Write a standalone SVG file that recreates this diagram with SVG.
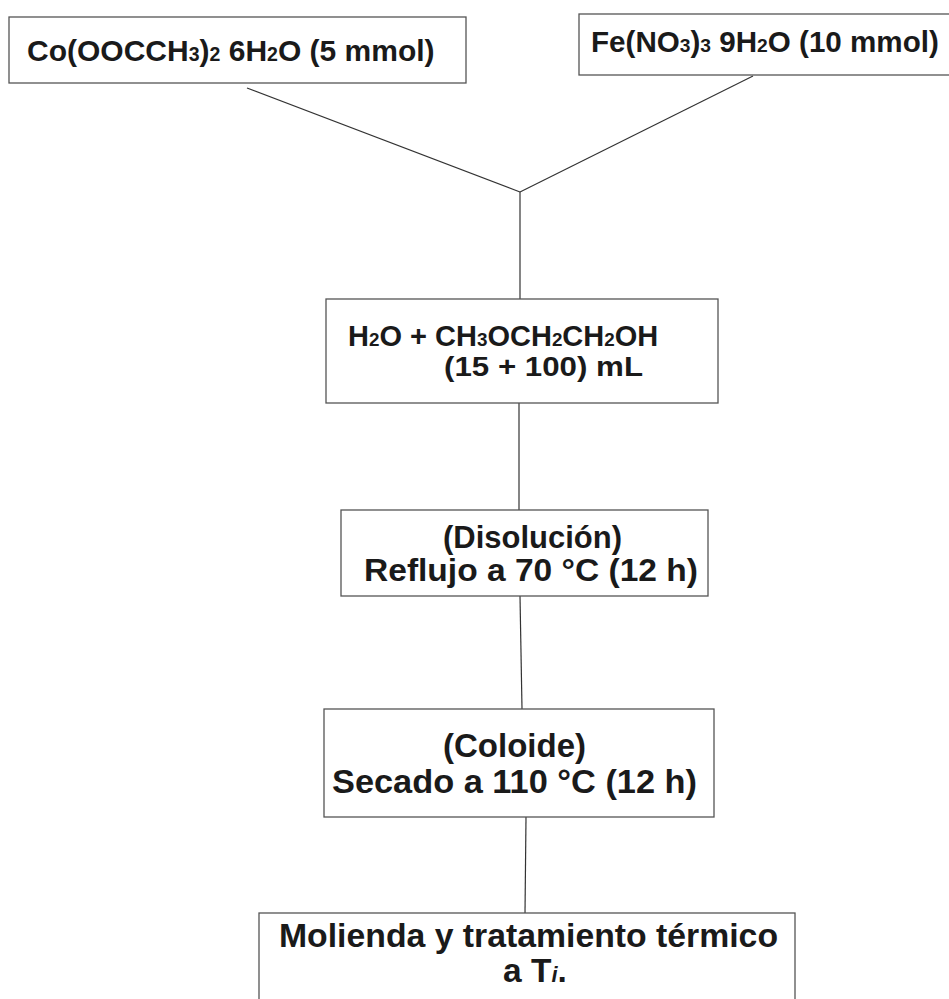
<svg xmlns="http://www.w3.org/2000/svg" width="949" height="999" viewBox="0 0 949 999">
<style>
.box{fill:#fff;stroke:#555;stroke-width:1.3}
.lbl{font-family:"Liberation Sans",Arial,sans-serif;font-weight:bold;fill:#1a1a1a}
.sub{font-size:65%}
.conn line{stroke:#333;stroke-width:1.2}
</style>
<rect width="949" height="999" fill="#fff"/>
<g class="conn" id="connectors">
<line x1="247" y1="88" x2="520" y2="192"/>
<line x1="753" y1="76" x2="520" y2="192"/>
<line x1="520" y1="192" x2="520" y2="299"/>
<line x1="519" y1="403" x2="519" y2="510"/>
<line x1="520" y1="596" x2="522" y2="709"/>
<line x1="526" y1="817" x2="525" y2="913"/>
</g>
<g id="n1">
<rect class="box" x="9" y="17" width="457" height="66"/>
<text class="lbl" x="27" y="61" font-size="30">Co(OOCCH<tspan class="sub">3</tspan>)<tspan class="sub">2</tspan> 6H<tspan class="sub">2</tspan>O (5 mmol)</text>
</g>
<g id="n2">
<rect class="box" x="579" y="14" width="400" height="61"/>
<text class="lbl" x="591" y="52" font-size="29.6">Fe(NO<tspan class="sub">3</tspan>)<tspan class="sub">3</tspan> 9H<tspan class="sub">2</tspan>O (10 mmol)</text>
</g>
<g id="n3">
<rect class="box" x="326" y="299" width="392" height="104"/>
<text class="lbl" x="348" y="346" font-size="29">H<tspan class="sub">2</tspan>O + CH<tspan class="sub">3</tspan>OCH<tspan class="sub">2</tspan>CH<tspan class="sub">2</tspan>OH</text>
<text class="lbl" x="444" y="376" font-size="27" textLength="199" lengthAdjust="spacingAndGlyphs">(15 + 100) mL</text>
</g>
<g id="n4">
<rect class="box" x="341" y="510" width="367" height="86"/>
<text class="lbl" x="443" y="548" font-size="31" textLength="179" lengthAdjust="spacingAndGlyphs">(Disolución)</text>
<text class="lbl" x="364" y="581" font-size="31" textLength="334" lengthAdjust="spacingAndGlyphs">Reflujo a 70 °C (12 h)</text>
</g>
<g id="n5">
<rect class="box" x="324" y="709" width="390" height="108"/>
<text class="lbl" x="443" y="757" font-size="33" textLength="143" lengthAdjust="spacingAndGlyphs">(Coloide)</text>
<text class="lbl" x="332" y="793" font-size="33" textLength="365" lengthAdjust="spacingAndGlyphs">Secado a 110 °C (12 h)</text>
</g>
<g id="n6">
<rect class="box" x="259" y="913" width="536" height="100"/>
<text class="lbl" x="279" y="947" font-size="33.5" textLength="499" lengthAdjust="spacingAndGlyphs">Molienda y tratamiento térmico</text>
<text class="lbl" x="503" y="982" font-size="33.5">a T<tspan class="sub" font-style="italic">i</tspan>.</text>
</g>
</svg>
